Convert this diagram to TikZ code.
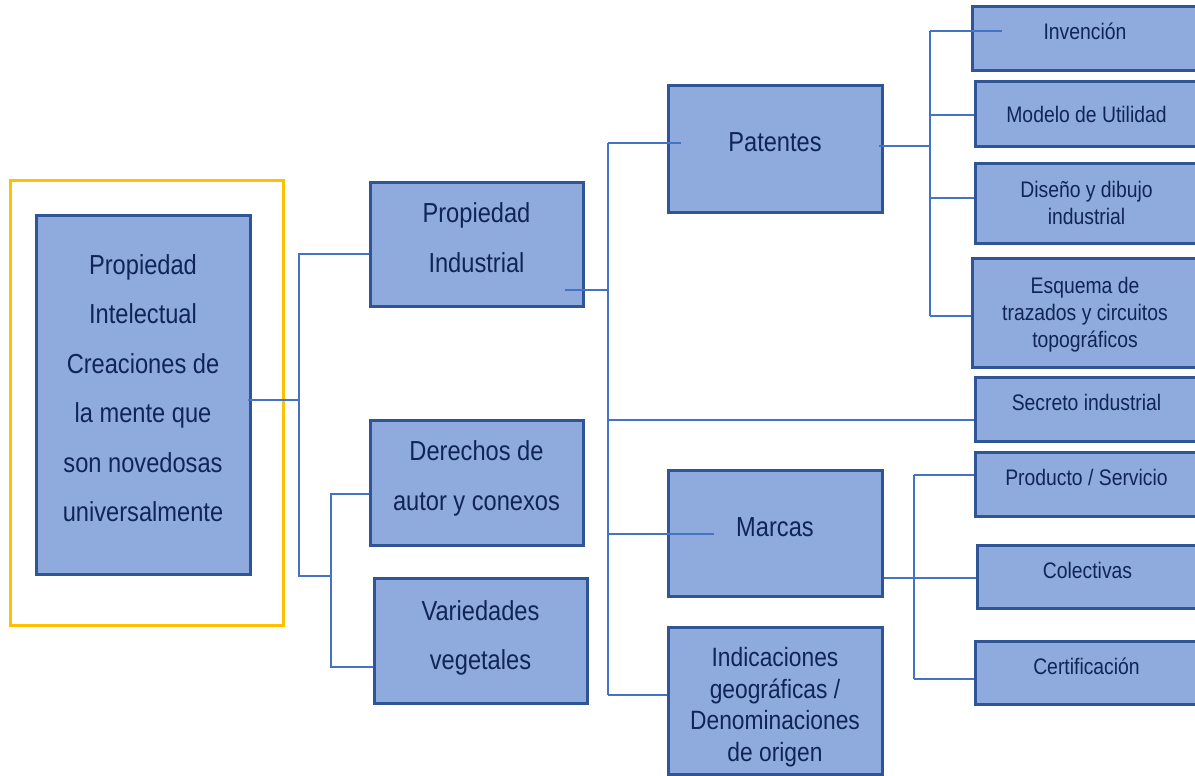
\documentclass[tikz,border=0pt]{standalone}
\usepackage{fontspec}
\setmainfont{Liberation Sans}[FakeStretch=0.86]
\definecolor{boxfill}{HTML}{8FAADC}
\definecolor{boxline}{HTML}{2F5597}
\definecolor{navytext}{HTML}{0F2557}
\definecolor{linkblue}{HTML}{4472C4}
\definecolor{frameyellow}{HTML}{FFC000}
% lines of a box, lifted by #1 from the box centre
\newcommand{\boxlines}[2]{\raisebox{#1}[0pt][0pt]{\begin{tabular}{@{}c@{}}#2\end{tabular}}}

\begin{document}
\begin{tikzpicture}[x=1pt,y=-1pt,
    box/.style={draw=boxline,fill=boxfill,line width=3pt,text=navytext,inner sep=0pt},
    bigtext/.style={font=\fontsize{27.5}{49.5}\selectfont},
    indtext/.style={font=\fontsize{26.5}{31.7}\selectfont},
    smalltext/.style={font=\fontsize{22.5}{27}\selectfont},
    frame/.style={draw=frameyellow,line width=3pt,inner sep=0pt},
    link/.style={draw=linkblue,line width=1.5pt}]
    \useasboundingbox (0,0) rectangle (1195,776);

    % left part
    \node[frame,minimum width=273,minimum height=445] (marco) at (146.5,402.5) {};
    \node[box,bigtext,minimum width=214,minimum height=359] (intelectual) at (143,394.5)
        {\boxlines{0pt}{Propiedad\\Intelectual\\Creaciones de\\la mente que\\son novedosas\\universalmente}};

    % second column
    \node[box,bigtext,minimum width=213,minimum height=124] (industrial) at (476.5,244) {\boxlines{0pt}{Propiedad\\Industrial}};
    \node[box,bigtext,minimum width=213,minimum height=125] (autor) at (476.5,482.5) {\boxlines{0.5pt}{Derechos de\\autor y conexos}};
    \node[box,bigtext,minimum width=213,minimum height=125] (vegetales) at (480.5,640.5) {\boxlines{-1pt}{Variedades\\vegetales}};

    % third column
    \node[box,bigtext,minimum width=214,minimum height=126] (patentes) at (775,149) {\boxlines{1pt}{Patentes}};
    \node[box,bigtext,minimum width=214,minimum height=126] (marcas) at (775,533) {\boxlines{0pt}{Marcas}};
    \node[box,indtext,minimum width=214,minimum height=147] (geograficas) at (775,701)
        {\boxlines{-13pt}{Indicaciones\\geográficas /\\Denominaciones\\de origen}};

    % right column
    \node[box,smalltext,minimum width=226,minimum height=64] (invencion) at (1085,39) {\boxlines{0pt}{Invención}};
    \node[box,smalltext,minimum width=223,minimum height=64] (utilidad) at (1086.5,114) {\boxlines{-8pt}{Modelo de Utilidad}};
    \node[box,smalltext,minimum width=223,minimum height=80] (diseno) at (1086.5,203) {\boxlines{-8pt}{Diseño y dibujo\\industrial}};
    \node[box,smalltext,minimum width=226,minimum height=109] (esquema) at (1085,312.5) {\boxlines{-8pt}{Esquema de\\trazados y circuitos\\topográficos}};
    \node[box,smalltext,minimum width=223,minimum height=64] (secreto) at (1086.5,409) {\boxlines{-1pt}{Secreto industrial}};
    \node[box,smalltext,minimum width=223,minimum height=64] (producto) at (1086.5,484) {\boxlines{-1pt}{Producto / Servicio}};
    \node[box,smalltext,minimum width=221,minimum height=63] (colectivas) at (1087.5,576.5) {\boxlines{-2pt}{Colectivas}};
    \node[box,smalltext,minimum width=223,minimum height=63] (certificacion) at (1086.5,672.5) {\boxlines{-2pt}{Certificación}};

    % bus points
    \coordinate (busA) at (299,400);
    \coordinate (busAtop) at (299,254);
    \coordinate (busAbot) at (299,576);
    \coordinate (busBtop) at (331,494);
    \coordinate (busBbot) at (331,667);
    \coordinate (busCtop) at (608,143);
    \coordinate (busCpi) at (608,290);
    \coordinate (busCsec) at (608,420);
    \coordinate (busCmar) at (608,534);
    \coordinate (busCbot) at (608,695);
    \coordinate (busDtop) at (930,31);
    \coordinate (busDmod) at (930,115);
    \coordinate (busDpat) at (930,146);
    \coordinate (busDdis) at (930,198);
    \coordinate (busDbot) at (930,316);
    \coordinate (busEtop) at (914,475);
    \coordinate (busEmid) at (914,578);
    \coordinate (busEbot) at (914,679);

    % connectors
    \draw[link,shorten <=-4pt] (intelectual.east |- busA) -- (busA);
    \draw[link] (industrial.west |- busAtop) -- (busAtop) -- (busAbot) -- (busAbot -| busBtop);
    \draw[link] (autor.west |- busBtop) -- (busBtop) -- (busBbot) -- (vegetales.west |- busBbot);

    \draw[link] (busCtop) -- (busCbot);
    \draw[link,shorten >=-14pt] (busCtop) -- (patentes.west |- busCtop);
    \draw[link,shorten >=-20pt] (busCpi) -- (industrial.east |- busCpi);
    \draw[link] (busCsec) -- (secreto.west |- busCsec);
    \draw[link,shorten >=-47pt] (busCmar) -- (marcas.west |- busCmar);
    \draw[link] (busCbot) -- (geograficas.west |- busCbot);

    \draw[link] (busDtop) -- (busDbot);
    \draw[link,shorten <=-5pt] (patentes.east |- busDpat) -- (busDpat);
    \draw[link,shorten >=-31pt] (busDtop) -- (invencion.west |- busDtop);
    \draw[link] (busDmod) -- (utilidad.west |- busDmod);
    \draw[link] (busDdis) -- (diseno.west |- busDdis);
    \draw[link] (busDbot) -- (esquema.west |- busDbot);

    \draw[link] (busEtop) -- (busEbot);
    \draw[link] (marcas.east |- busEmid) -- (colectivas.west |- busEmid);
    \draw[link] (busEtop) -- (producto.west |- busEtop);
    \draw[link] (busEbot) -- (certificacion.west |- busEbot);
\end{tikzpicture}
\end{document}
